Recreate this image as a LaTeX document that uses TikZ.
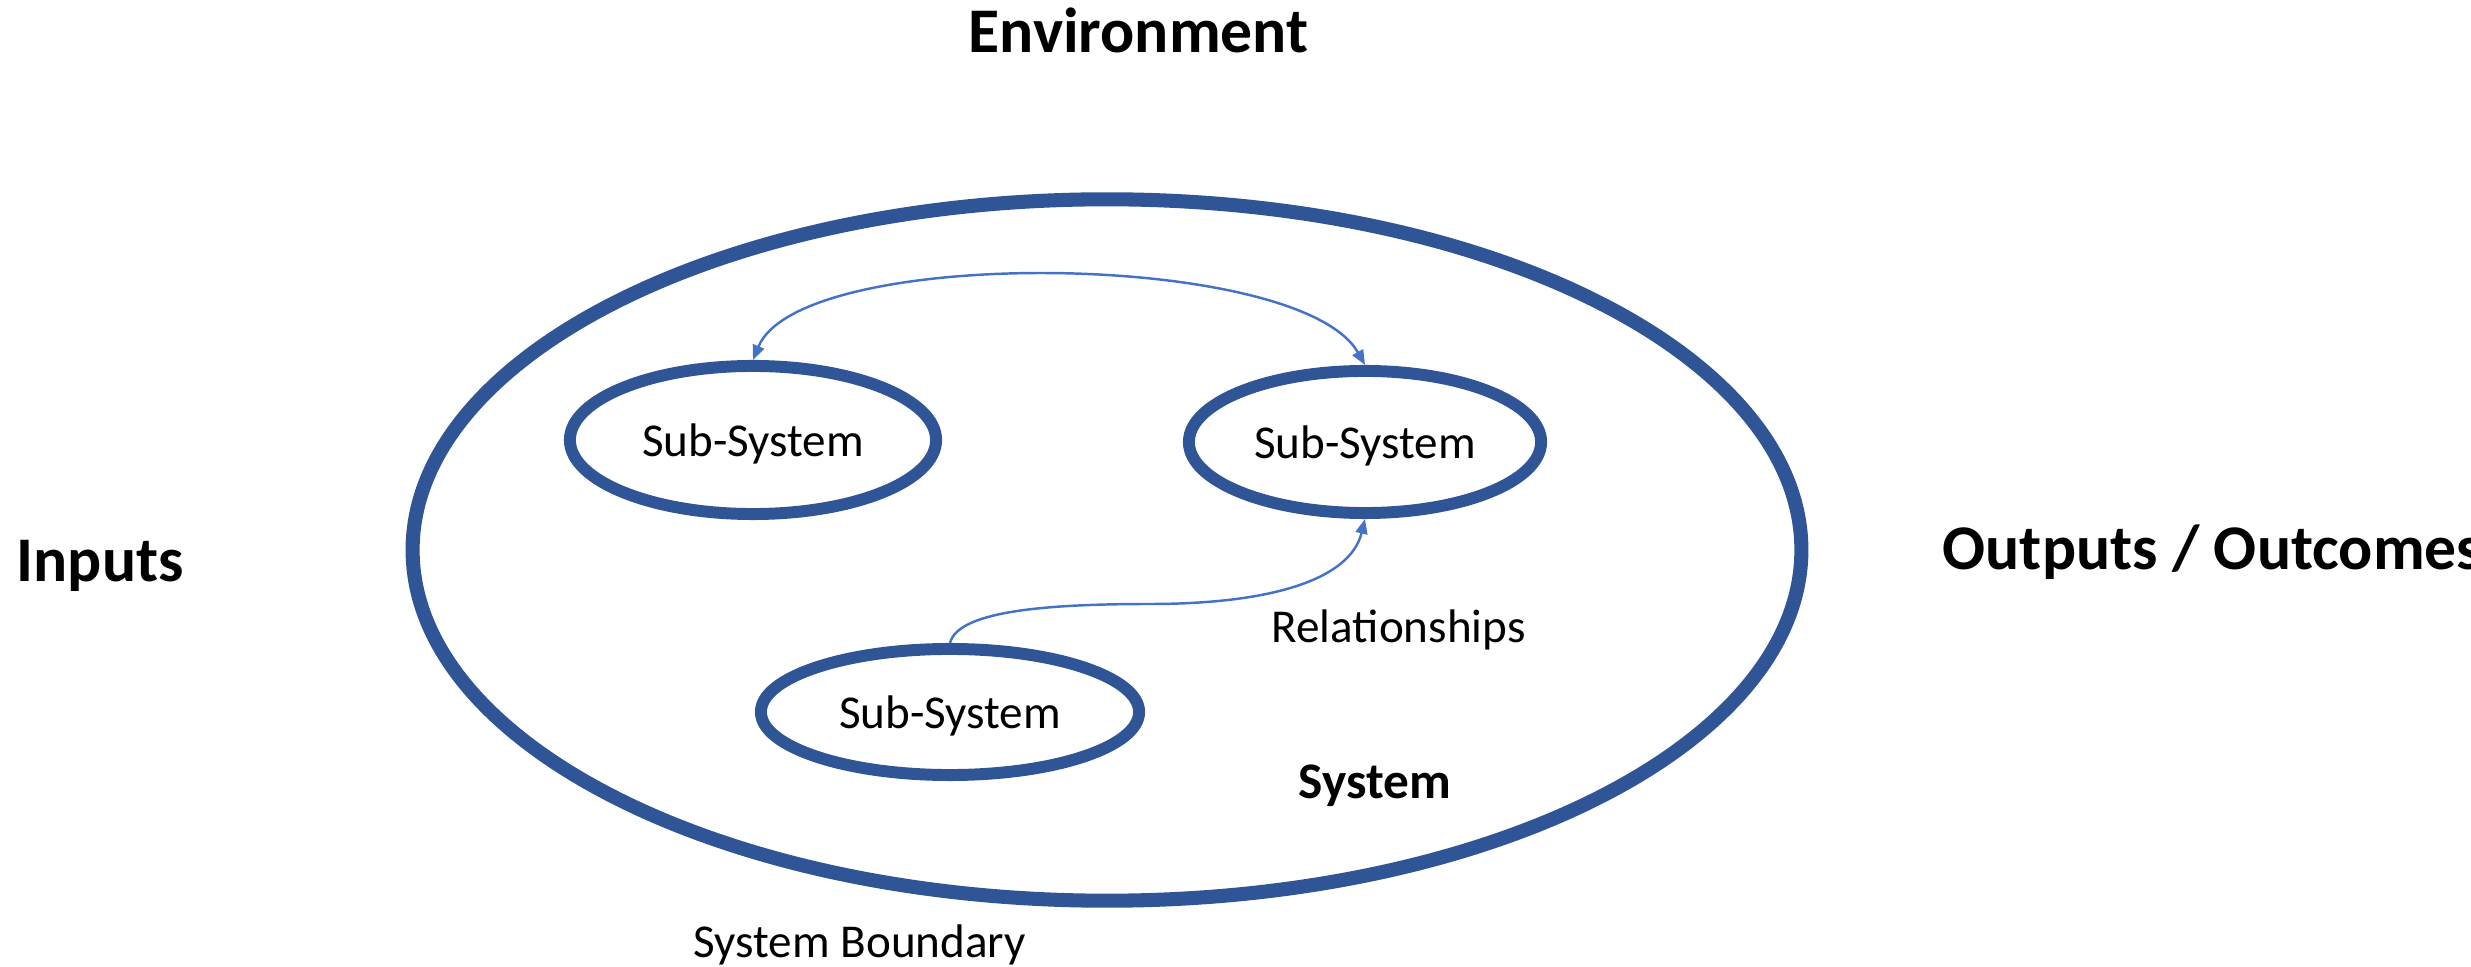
\documentclass[tikz,border=0pt]{standalone}
\usepackage{fontspec}
\setmainfont{Carlito}
\usetikzlibrary{shapes.geometric,arrows.meta}
\definecolor{sysblue}{HTML}{2F5597}
\definecolor{relblue}{HTML}{4472C4}

\begin{document}
\begin{tikzpicture}[>={Triangle[length=4.2pt,width=3.4pt]},x=0.01cm,y=-0.01cm]
                \tikzstyle{every node}=[inner sep=0pt]
                \tikzstyle{ring}=[draw=sysblue,ellipse,line width=3.4pt,text depth=0pt,font=\fontsize{13.4}{16}\selectfont]
                \tikzstyle{rel}=[draw=relblue,line width=0.7pt]
                \tikzstyle{bigtxt}=[anchor=base west,font=\bfseries\fontsize{18.1}{21}\selectfont]
                \tikzstyle{smalltxt}=[anchor=base west,font=\fontsize{13.4}{16}\selectfont]
                \useasboundingbox (0,0) rectangle (2471,967);
                % system and its parts
                \node[ring,line width=4pt,minimum width=13.88cm,minimum height=7.01cm] (sys) at (1107,550) {};
                \node[ring,minimum width=3.66cm,minimum height=1.48cm] (subA) at (753,440) {Sub-System};
                \node[ring,minimum width=3.52cm,minimum height=1.42cm] (subB) at (1365,442) {Sub-System};
                \node[ring,minimum width=3.78cm,minimum height=1.26cm] (subC) at (950,712) {Sub-System};
                % relationships
                \coordinate (bend) at (1150,604);
                \draw[rel,<->] (subA.north) .. controls (800,245) and (1300,250) .. (subB.north);
                \draw[rel,->] (subC.north) .. controls (958,612) and (1040,604) .. (bend)
                                .. controls (1270,604) and (1350,580) .. (subB.south);
                % labels
                \node[bigtxt] (env) at (968,53) {Environment};
                \node[bigtxt] (inp) at (16,582) {Inputs};
                \node[bigtxt] (outp) at (1942,570) {Outputs / Outcomes};
                \node[bigtxt,font=\bfseries\fontsize{14.6}{17}\selectfont] (sysname) at (1298,799) {System};
                \node[smalltxt] (rels) at (1271,643) {Relationships};
                \node[smalltxt] (bound) at (693,958) {System Boundary};
            \end{tikzpicture}
\end{document}
